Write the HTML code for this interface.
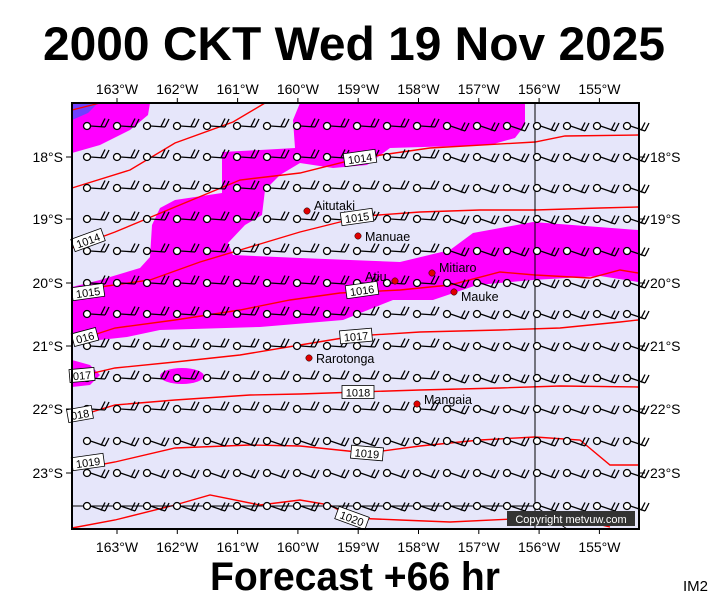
<!DOCTYPE html>
<html><head><meta charset="utf-8"><style>
html,body{margin:0;padding:0;background:#fff;}
svg{display:block;font-family:"Liberation Sans",sans-serif;}
</style></head><body>
<svg id="s" width="711" height="600" viewBox="0 0 711 600" xmlns="http://www.w3.org/2000/svg">
<text x="354" y="60" text-anchor="middle" font-size="47" font-weight="bold" textLength="622" lengthAdjust="spacingAndGlyphs">2000 CKT Wed 19 Nov 2025</text>
<text x="355" y="590" text-anchor="middle" font-size="40" font-weight="bold" textLength="290" lengthAdjust="spacingAndGlyphs">Forecast +66 hr</text>
<text x="683" y="591" font-size="15">IM2</text>
<rect x="72" y="103" width="567" height="426" fill="#e6e6fa"/>
<g fill="#ff00ff">
<polygon points="72,103 150,103 148,115 130,130 100,145 72,153"/>
<polygon points="72,287 100,280 140,268 150,257 152,225 160,208 175,200 222,193 222,152 260,150 295,148 293,120 300,103 525,103 525,125 515,138 490,145 390,148 367,165 333,168 300,163 280,175 265,190 262,215 245,225 228,243 233,255 300,258 400,262 450,250 473,233 533,222 638,230 638,282 600,276 533,280 477,285 433,300 393,300 343,320 260,327 160,330 127,337 72,343"/>
<polygon points="72,360 90,365 100,375 90,385 72,387"/>
<ellipse cx="182" cy="376" rx="22" ry="8"/>
<circle cx="568" cy="157" r="3"/>
</g>
<polygon points="72,103 98,103 88,113 72,120" fill="#7040ff"/>
<g id="iso" fill="none" stroke="#ff0000" stroke-width="1.4">
<polyline points="72,110 100,103"/>
<polyline points="72,188 130,170 175,143 233,122 265,103"/>
<polyline points="72,248 115,232 175,207 240,180 300,173 360,158 430,148 535,142 565,136 638,135"/>
<polyline points="72,290 100,287 150,280 200,262 240,250 300,232 340,222 365,216 420,212 480,210 535,210 600,208 638,207"/>
<polyline points="72,342 115,328 175,320 240,310 290,300 340,293 400,290 450,285 500,272 535,275 590,278 620,270 638,273"/>
<polyline points="72,378 115,368 175,362 240,355 300,345 355,336 420,332 500,330 560,328 620,322 638,320"/>
<polyline points="72,418 115,405 175,400 250,395 300,394 358,392 420,390 500,388 560,386 638,387"/>
<polyline points="72,470 115,462 175,448 250,445 300,446 367,453 420,446 480,440 535,437 580,440 610,465 638,465"/>
<polyline points="72,528 115,520 175,505 210,495 260,505 300,500 330,505 352,518 400,520 450,522 535,518 580,520 610,527"/>
</g>
<g stroke="#000" stroke-width="1">
<line x1="535" y1="103" x2="535" y2="529"/>
<line x1="72" y1="506" x2="535" y2="506"/>
<line x1="535" y1="506" x2="567" y2="529"/>
</g>
<g id="barbs" stroke="#000" stroke-width="1.3" fill="none"></g>
<g id="labs" font-size="11"></g>
<g font-size="12.5" fill="#000">
<circle cx="307" cy="211" r="3.2" fill="#e00000" stroke="#000" stroke-width=".5"/><text x="314" y="210">Aitutaki</text>
<circle cx="358" cy="236" r="3.2" fill="#e00000" stroke="#000" stroke-width=".5"/><text x="365" y="241">Manuae</text>
<circle cx="395" cy="281" r="3.2" fill="#e00000" stroke="#000" stroke-width=".5"/><text x="365" y="281">Atiu</text>
<circle cx="432" cy="273" r="3.2" fill="#e00000" stroke="#000" stroke-width=".5"/><text x="439" y="272">Mitiaro</text>
<circle cx="454" cy="292" r="3.2" fill="#e00000" stroke="#000" stroke-width=".5"/><text x="461" y="301">Mauke</text>
<circle cx="309" cy="358" r="3.2" fill="#e00000" stroke="#000" stroke-width=".5"/><text x="316" y="363">Rarotonga</text>
<circle cx="417" cy="404" r="3.2" fill="#e00000" stroke="#000" stroke-width=".5"/><text x="424" y="404">Mangaia</text>
</g>
<rect x="507" y="511" width="128" height="15" fill="#333"/>
<text x="571" y="523" text-anchor="middle" font-size="11" fill="#fff">Copyright metvuw.com</text>
<rect x="72" y="103" width="567" height="426" fill="none" stroke="#000" stroke-width="2"/>
<g id="ax" font-size="14"></g>
</svg>
<script>
var ns="http://www.w3.org/2000/svg";
function el(p,t,a,txt){var e=document.createElementNS(ns,t);for(var k in a)e.setAttribute(k,a[k]);if(txt)e.textContent=txt;p.appendChild(e);return e;}
var b=document.getElementById('barbs');
var rows=[126,157,188,219,251,283,314,346,378,409,441,473,506];
for(var r=0;r<rows.length;r++){for(var c=0;c<19;c++){
 var x=87+c*30,y=rows[r];
 var dy=(x>420||y>430)?5:1;
 var ex=x+18,ey=y+dy;
 el(b,'line',{x1:x+3.5,y1:y,x2:ex,y2:ey});
 el(b,'line',{x1:ex,y1:ey,x2:ex+4,y2:ey-8});
 el(b,'line',{x1:ex-4,y1:ey-0.5,x2:ex,y2:ey-8.5});
 el(b,'circle',{cx:x,cy:y,r:3.5,fill:'#fff'});
}}
var L=document.getElementById('labs');
var labels=[[360,158,'1014',-8],[357,217,'1015',-8],[88,240,'1014',-20],[88,292,'1015',-8],[362,290,'1016',-8],[85,337,'016',-15],[356,336,'1017',-5],[82,375,'017',-5],[358,392,'1018',0],[80,414,'018',-10],[367,453,'1019',5],[88,462,'1019',-8],[352,518,'1020',20]];
labels.forEach(function(l){var g=el(L,'g',{transform:'translate('+l[0]+','+l[1]+') rotate('+l[3]+')'});
 var w=l[2].length*7+4;el(g,'rect',{x:-w/2,y:-6.5,width:w,height:13,fill:'#fff',stroke:'#000','stroke-width':.8});
 el(g,'text',{x:0,y:4.5,'text-anchor':'middle'},l[2]);});
var A=document.getElementById('ax');
for(var i=0;i<9;i++){var x=117+i*60.3,t=(163-i)+'°W';
 el(A,'text',{x:x,y:94,'text-anchor':'middle'},t);el(A,'text',{x:x,y:552,'text-anchor':'middle'},t);
 el(A,'line',{x1:x,y1:98,x2:x,y2:103,stroke:'#000'});el(A,'line',{x1:x,y1:529,x2:x,y2:534,stroke:'#000'});}
var lat=[157,219,283,346,409,473];
for(var j=0;j<6;j++){var y=lat[j],t=(18+j)+'°S';
 el(A,'text',{x:63,y:y+5,'text-anchor':'end'},t);el(A,'text',{x:650,y:y+5},t);
 el(A,'line',{x1:66,y1:y,x2:72,y2:y,stroke:'#000'});el(A,'line',{x1:639,y1:y,x2:645,y2:y,stroke:'#000'});}
</script>
</body></html>
